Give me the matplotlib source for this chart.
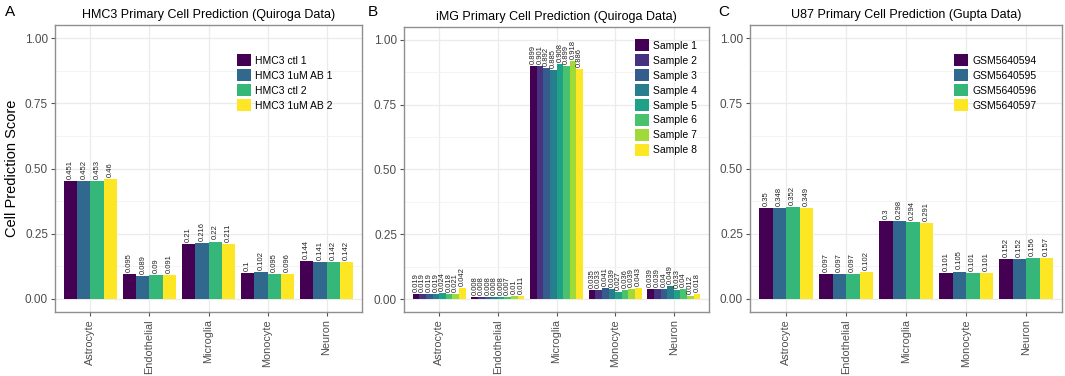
import numpy as np
import matplotlib as mpl
mpl.use('Agg')
import matplotlib.pyplot as plt
from matplotlib.patches import Patch

plt.rcParams['font.family'] = ['Liberation Sans', 'DejaVu Sans']

cell_types = ['Astrocyte', 'Endothelial', 'Microglia', 'Monocyte', 'Neuron']

# panel A: HMC3 (Quiroga)
hmc3_samples = ['HMC3 ctl 1', 'HMC3 1uM AB 1', 'HMC3 ctl 2', 'HMC3 1uM AB 2']
hmc3_scores = [
    [0.451, 0.095, 0.21, 0.1, 0.144],
    [0.452, 0.089, 0.216, 0.102, 0.141],
    [0.453, 0.09, 0.22, 0.095, 0.142],
    [0.46, 0.091, 0.211, 0.096, 0.142],
]

# panel B: iMG (Quiroga)
img_samples = ['Sample %d' % i for i in range(1, 9)]
img_scores = [
    [0.019, 0.008, 0.899, 0.035, 0.039],
    [0.019, 0.008, 0.901, 0.033, 0.039],
    [0.019, 0.008, 0.892, 0.041, 0.04],
    [0.019, 0.008, 0.885, 0.039, 0.049],
    [0.024, 0.008, 0.908, 0.027, 0.033],
    [0.018, 0.007, 0.899, 0.036, 0.04],
    [0.021, 0.01, 0.918, 0.039, 0.012],
    [0.042, 0.011, 0.886, 0.043, 0.018],
]

# panel C: U87 (Gupta)
u87_samples = ['GSM5640594', 'GSM5640595', 'GSM5640596', 'GSM5640597']
u87_scores = [
    [0.35, 0.097, 0.3, 0.101, 0.152],
    [0.348, 0.097, 0.298, 0.105, 0.152],
    [0.352, 0.097, 0.294, 0.101, 0.156],
    [0.349, 0.102, 0.291, 0.101, 0.157],
]

W, H = 1065, 376
fig = plt.figure(figsize=(W / 100, H / 100), dpi=100)


def px_axes(left, top, right, bottom):
    return fig.add_axes([left / W, 1 - bottom / H, (right - left) / W,
                         (bottom - top) / H])


def draw_panel(ax, title, samples, scores, legend_xy):
    n = len(samples)
    colors = plt.cm.viridis(np.linspace(0, 1, n))
    width = 0.9 / n
    x = np.arange(len(cell_types))
    for i, (name, vals) in enumerate(zip(samples, scores)):
        pos = x - 0.45 + width * (i + 0.5)
        ax.bar(pos, vals, width=width, color=colors[i], linewidth=0,
               zorder=2)
        for p, v in zip(pos, vals):
            ax.annotate('%g' % v, (p, v), xytext=(0, 1.5),
                        textcoords='offset points', rotation=90,
                        ha='center', va='bottom', fontsize=5.5,
                        color='#222222', zorder=3)
    ax.set_xlim(-0.6, len(cell_types) - 0.4)
    ax.set_ylim(-0.05, 1.05)
    ax.set_xticks(x)
    ax.set_xticklabels(cell_types, rotation=90, fontsize=7.8, color='#4d4d4d')
    ax.set_yticks([0, 0.25, 0.5, 0.75, 1.0])
    ax.set_yticklabels(['0.00', '0.25', '0.50', '0.75', '1.00'],
                       fontsize=8.5, color='#4d4d4d')
    ax.set_yticks([0.125, 0.375, 0.625, 0.875], minor=True)
    ax.tick_params(axis='both', which='major', length=3, color='#555555',
                   pad=2)
    ax.tick_params(axis='y', which='minor', length=0)
    ax.grid(True, which='major', color='#ebebeb', lw=0.9, zorder=0)
    ax.grid(True, which='minor', axis='y', color='#f2f2f2', lw=0.6, zorder=0)
    ax.set_axisbelow(True)
    for s in ax.spines.values():
        s.set_color('#8f8f8f')
        s.set_linewidth(1.0)
    ax.set_title(title, fontsize=9, pad=5)
    handles = [Patch(facecolor=colors[i], edgecolor='none')
               for i in range(n)]
    ax.legend(handles, samples, loc='upper left', bbox_to_anchor=legend_xy,
              frameon=False, fontsize=7.5, handlelength=1.35,
              handleheight=1.45, labelspacing=0.25, handletextpad=0.4,
              borderpad=0, borderaxespad=0)


axA = px_axes(55, 25, 362, 312)
axB = px_axes(404, 27, 709, 312)
axC = px_axes(750, 25, 1062, 312)

draw_panel(axA, 'HMC3 Primary Cell Prediction (Quiroga Data)', hmc3_samples,
           hmc3_scores, (0.593, 0.899))
draw_panel(axB, 'iMG Primary Cell Prediction (Quiroga Data)', img_samples,
           img_scores, (0.757, 0.958))
draw_panel(axC, 'U87 Primary Cell Prediction (Gupta Data)', u87_samples,
           u87_scores, (0.654, 0.899))

axA.set_ylabel('Cell Prediction Score', fontsize=10.5, labelpad=4)

fig.text(5 / W, 1 - 12 / H, 'A', fontsize=11, va='center', ha='left')
fig.text(368 / W, 1 - 12 / H, 'B', fontsize=11, va='center', ha='left')
fig.text(718 / W, 1 - 12 / H, 'C', fontsize=11, va='center', ha='left')

fig.savefig('out.png', dpi=100)
